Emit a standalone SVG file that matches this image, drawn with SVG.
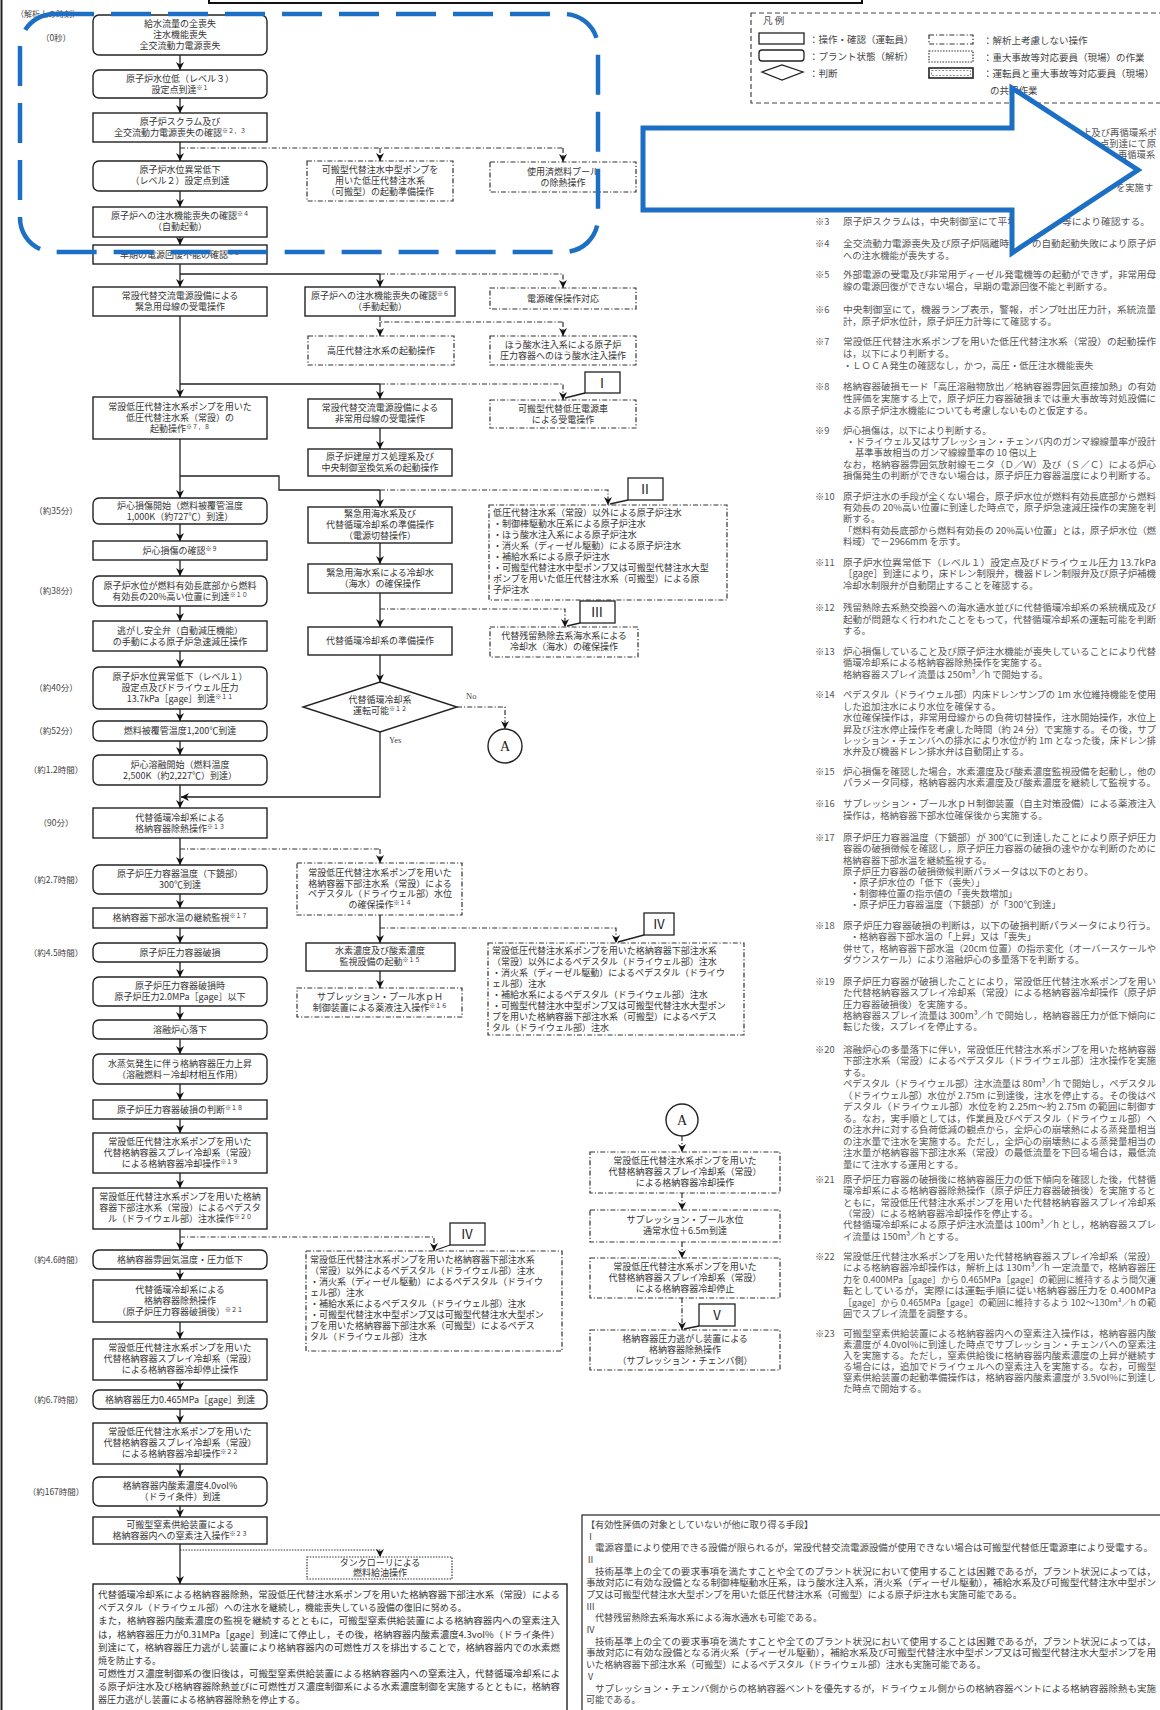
<svg xmlns="http://www.w3.org/2000/svg" width="1160" height="1710" viewBox="0 0 1160 1710">
<style>
.bx{fill:#fff;stroke:#222;stroke-width:1.4}
.dd{fill:#fff;stroke:#333;stroke-width:1.2;stroke-dasharray:5 2 1.2 2}
.dt{fill:#fff;stroke:#333;stroke-width:1.2;stroke-dasharray:1.5 1.3}
.lb{fill:#fff;stroke:#222;stroke-width:1.3}
.t{font-family:"Noto Sans CJK JP","Noto Sans CJK SC",sans-serif;font-size:9px;fill:#333;text-anchor:middle}
.tl{font-family:"Noto Sans CJK JP","Noto Sans CJK SC",sans-serif;font-size:9px;fill:#333}
.tm{font-family:"Noto Sans CJK JP",sans-serif;font-size:8.5px;fill:#444;text-anchor:middle}
.n{font-family:"Noto Sans CJK JP","Noto Sans CJK SC",sans-serif;font-size:9.3px;fill:#555}
.b{font-family:"Noto Sans CJK JP","Noto Sans CJK SC",sans-serif;font-size:9.1px;fill:#444}
.lg{font-family:"Noto Sans CJK JP",sans-serif;font-size:9.5px;fill:#444}
.rn{font-family:"Noto Sans CJK JP",sans-serif;font-size:13px;fill:#222;text-anchor:middle}
.s{font-size:6px}
.ln{fill:none;stroke:#222;stroke-width:1.3}
.ldd{fill:none;stroke:#333;stroke-width:1.2;stroke-dasharray:5 2 1.2 2}
.ldt{fill:none;stroke:#333;stroke-width:1.2;stroke-dasharray:1.5 1.3}
.blue{fill:none;stroke:#1c6fc4;stroke-width:4.5}
</style>
<defs>
<marker id="ah" viewBox="0 0 10 10" refX="10" refY="5" markerWidth="8" markerHeight="8" markerUnits="userSpaceOnUse" orient="auto">
<path d="M0,0 L10,5 L0,10 L3,5 z" fill="#111"/>
</marker>
</defs>
<rect width="1160" height="1710" fill="#fff"/>
<line x1="1.5" y1="0" x2="1.5" y2="1710" stroke="#222" stroke-width="2"/>
<rect x="209" y="-6" width="653" height="9" fill="none" stroke="#111" stroke-width="2"/>
<text class="tm" x="48" y="17" style="font-size:8px">（解析上の時刻）</text>

<!-- main column -->
<g id="n1"><rect class="bx" x="93" y="15" width="174" height="40" rx="6"/><text class="t" x="180" y="27">給水流量の全喪失</text><text class="t" x="180" y="38">注水機能喪失</text><text class="t" x="180" y="49">全交流動力電源喪失</text></g>
<g id="n2"><rect class="bx" x="93" y="70" width="174" height="28" rx="6"/><text class="t" x="180" y="82">原子炉水位低（レベル３）</text><text class="t" x="180" y="93">設定点到達<tspan class="s" dy="-3">※１</tspan></text></g>
<g id="n3"><rect class="bx" x="93" y="113" width="174" height="29"/><text class="t" x="180" y="125">原子炉スクラム及び</text><text class="t" x="180" y="136">全交流動力電源喪失の確認<tspan class="s" dy="-3">※２，３</tspan></text></g>
<g id="n4"><rect class="bx" x="93" y="161" width="174" height="30" rx="6"/><text class="t" x="180" y="173">原子炉水位異常低下</text><text class="t" x="180" y="184">（レベル２）設定点到達</text></g>
<g id="n5"><rect class="bx" x="93" y="207" width="174" height="30"/><text class="t" x="180" y="219">原子炉への注水機能喪失の確認<tspan class="s" dy="-3">※４</tspan></text><text class="t" x="180" y="230">（自動起動）</text></g>
<g id="n6"><rect class="bx" x="93" y="245" width="174" height="19"/><text class="t" x="180" y="258">早期の電源回復不能の確認<tspan class="s" dy="-3">※５</tspan></text></g>
<g id="n7"><rect class="bx" x="93" y="287" width="174" height="29"/><text class="t" x="180" y="299">常設代替交流電源設備による</text><text class="t" x="180" y="310">緊急用母線の受電操作</text></g>
<g id="n8"><rect class="bx" x="93" y="397" width="174" height="42"/><text class="t" x="180" y="410">常設低圧代替注水系ポンプを用いた</text><text class="t" x="180" y="421">低圧代替注水系（常設）の</text><text class="t" x="180" y="432">起動操作<tspan class="s" dy="-3">※７，８</tspan></text></g>
<g id="n9"><rect class="bx" x="93" y="498" width="174" height="26" rx="6"/><text class="t" x="180" y="509">炉心損傷開始（燃料被覆管温度</text><text class="t" x="180" y="520">1,000K（約727℃）到達）</text></g>
<g id="n10"><rect class="bx" x="93" y="541" width="174" height="19"/><text class="t" x="180" y="554">炉心損傷の確認<tspan class="s" dy="-3">※９</tspan></text></g>
<g id="n11"><rect class="bx" x="93" y="576" width="174" height="30" rx="6"/><text class="t" x="180" y="589">原子炉水位が燃料有効長底部から燃料</text><text class="t" x="180" y="600">有効長の20%高い位置に到達<tspan class="s" dy="-3">※１０</tspan></text></g>
<g id="n12"><rect class="bx" x="93" y="621" width="174" height="30"/><text class="t" x="180" y="634">逃がし安全弁（自動減圧機能）</text><text class="t" x="180" y="645">の手動による原子炉急速減圧操作</text></g>
<g id="n13"><rect class="bx" x="93" y="667" width="174" height="42" rx="6"/><text class="t" x="180" y="680">原子炉水位異常低下（レベル１）</text><text class="t" x="180" y="691">設定点及びドライウェル圧力</text><text class="t" x="180" y="702">13.7kPa［gage］到達<tspan class="s" dy="-3">※１１</tspan></text></g>
<g id="n14"><rect class="bx" x="93" y="721" width="174" height="20" rx="6"/><text class="t" x="180" y="734">燃料被覆管温度1,200℃到達</text></g>
<g id="n15"><rect class="bx" x="93" y="755" width="174" height="30" rx="6"/><text class="t" x="180" y="768">炉心溶融開始（燃料温度</text><text class="t" x="180" y="779">2,500K（約2,227℃）到達）</text></g>
<g id="n16"><rect class="bx" x="93" y="808" width="174" height="30"/><text class="t" x="180" y="821">代替循環冷却系による</text><text class="t" x="180" y="832">格納容器除熱操作<tspan class="s" dy="-3">※１３</tspan></text></g>
<g id="n17"><rect class="bx" x="93" y="865" width="174" height="29" rx="6"/><text class="t" x="180" y="877">原子炉圧力容器温度（下鏡部）</text><text class="t" x="180" y="888">300℃到達</text></g>
<g id="n18"><rect class="bx" x="93" y="908" width="174" height="20"/><text class="t" x="180" y="921">格納容器下部水温の継続監視<tspan class="s" dy="-3">※１７</tspan></text></g>
<g id="n19"><rect class="bx" x="93" y="943" width="174" height="19" rx="6"/><text class="t" x="180" y="956">原子炉圧力容器破損</text></g>
<g id="n20"><rect class="bx" x="93" y="977" width="174" height="29" rx="6"/><text class="t" x="180" y="989">原子炉圧力容器破損時</text><text class="t" x="180" y="1000">原子炉圧力2.0MPa［gage］以下</text></g>
<g id="n21"><rect class="bx" x="93" y="1020" width="174" height="19" rx="6"/><text class="t" x="180" y="1033">溶融炉心落下</text></g>
<g id="n22"><rect class="bx" x="93" y="1054" width="174" height="30" rx="6"/><text class="t" x="180" y="1067">水蒸気発生に伴う格納容器圧力上昇</text><text class="t" x="180" y="1078">（溶融燃料－冷却材相互作用）</text></g>
<g id="n23"><rect class="bx" x="93" y="1100" width="174" height="19"/><text class="t" x="180" y="1113">原子炉圧力容器破損の判断<tspan class="s" dy="-3">※１８</tspan></text></g>
<g id="n24"><rect class="bx" x="93" y="1133" width="174" height="40"/><text class="t" x="180" y="1145">常設低圧代替注水系ポンプを用いた</text><text class="t" x="180" y="1156">代替格納容器スプレイ冷却系（常設）</text><text class="t" x="180" y="1167">による格納容器冷却操作<tspan class="s" dy="-3">※１９</tspan></text></g>
<g id="n25"><rect class="bx" x="93" y="1188" width="174" height="41"/><text class="t" x="180" y="1200">常設低圧代替注水系ポンプを用いた格納</text><text class="t" x="180" y="1211">容器下部注水系（常設）によるペデスタ</text><text class="t" x="180" y="1222">ル（ドライウェル部）注水操作<tspan class="s" dy="-3">※２０</tspan></text></g>
<g id="n26"><rect class="bx" x="93" y="1250" width="174" height="19" rx="6"/><text class="t" x="180" y="1263">格納容器雰囲気温度・圧力低下</text></g>
<g id="n27"><rect class="bx" x="93" y="1280" width="174" height="42"/><text class="t" x="180" y="1293">代替循環冷却系による</text><text class="t" x="180" y="1304">格納容器除熱操作</text><text class="t" x="180" y="1315">（原子炉圧力容器破損後）<tspan class="s" dy="-3">※２１</tspan></text></g>
<g id="n28"><rect class="bx" x="93" y="1339" width="174" height="41"/><text class="t" x="180" y="1351">常設低圧代替注水系ポンプを用いた</text><text class="t" x="180" y="1362">代替格納容器スプレイ冷却系（常設）</text><text class="t" x="180" y="1373">による格納容器冷却停止操作</text></g>
<g id="n29"><rect class="bx" x="93" y="1390" width="174" height="19" rx="6"/><text class="t" x="180" y="1403">格納容器圧力0.465MPa［gage］到達</text></g>
<g id="n30"><rect class="bx" x="93" y="1423" width="174" height="41"/><text class="t" x="180" y="1435">常設低圧代替注水系ポンプを用いた</text><text class="t" x="180" y="1446">代替格納容器スプレイ冷却系（常設）</text><text class="t" x="180" y="1457">による格納容器冷却操作<tspan class="s" dy="-3">※２２</tspan></text></g>
<g id="n31"><rect class="bx" x="93" y="1477" width="174" height="29" rx="6"/><text class="t" x="180" y="1489">格納容器内酸素濃度4.0vol%</text><text class="t" x="180" y="1500">（ドライ条件）到達</text></g>
<g id="n32"><rect class="bx" x="93" y="1517" width="174" height="27"/><text class="t" x="180" y="1528">可搬型窒素供給装置による</text><text class="t" x="180" y="1539">格納容器内への窒素注入操作<tspan class="s" dy="-3">※２３</tspan></text></g>
<g id="n33"><rect class="bx" x="93" y="1584" width="474" height="140"/>
<text class="tl" x="98" y="1598" textLength="462" lengthAdjust="spacingAndGlyphs">代替循環冷却系による格納容器除熱，常設低圧代替注水系ポンプを用いた格納容器下部注水系（常設）による</text>
<text class="tl" x="98" y="1611">ペデスタル（ドライウェル部）への注水を継続し，機能喪失している設備の復旧に努める。</text>
<text class="tl" x="98" y="1624" textLength="462" lengthAdjust="spacingAndGlyphs">また，格納容器内酸素濃度の監視を継続するとともに，可搬型窒素供給装置による格納容器内への窒素注入</text>
<text class="tl" x="98" y="1638" textLength="462" lengthAdjust="spacingAndGlyphs">は，格納容器圧力が0.31MPa［gage］到達にて停止し，その後，格納容器内酸素濃度4.3vol%（ドライ条件）</text>
<text class="tl" x="98" y="1651" textLength="462" lengthAdjust="spacingAndGlyphs">到達にて，格納容器圧力逃がし装置により格納容器内の可燃性ガスを排出することで，格納容器内での水素燃</text>
<text class="tl" x="98" y="1664">焼を防止する。</text>
<text class="tl" x="98" y="1677" textLength="462" lengthAdjust="spacingAndGlyphs">可燃性ガス濃度制御系の復旧後は，可搬型窒素供給装置による格納容器内への窒素注入，代替循環冷却系によ</text>
<text class="tl" x="98" y="1690" textLength="462" lengthAdjust="spacingAndGlyphs">る原子炉注水及び格納容器除熱並びに可燃性ガス濃度制御系による水素濃度制御を実施するとともに，格納容</text>
<text class="tl" x="98" y="1703">器圧力逃がし装置による格納容器除熱を停止する。</text></g>

<!-- time labels -->
<g id="times">
<text class="tm" x="56" y="41">（0秒）</text>
<text class="tm" x="56" y="514">（約35分）</text>
<text class="tm" x="56" y="594">（約38分）</text>
<text class="tm" x="56" y="691">（約40分）</text>
<text class="tm" x="56" y="734">（約52分）</text>
<text class="tm" x="56" y="773">（約1.2時間）</text>
<text class="tm" x="56" y="826">（90分）</text>
<text class="tm" x="56" y="883">（約2.7時間）</text>
<text class="tm" x="56" y="956">（約4.5時間）</text>
<text class="tm" x="56" y="1263">（約4.6時間）</text>
<text class="tm" x="56" y="1403">（約6.7時間）</text>
<text class="tm" x="56" y="1495">（約167時間）</text>
</g>

<!-- side nodes -->
<g id="s1"><rect class="dd" x="307" y="161" width="146" height="40"/><text class="t" x="380" y="173">可搬型代替注水中型ポンプを</text><text class="t" x="380" y="184">用いた低圧代替注水系</text><text class="t" x="380" y="195">（可搬型）の起動準備操作</text></g>
<g id="s2"><rect class="dd" x="490" y="162" width="146" height="30"/><text class="t" x="563" y="175">使用済燃料プール</text><text class="t" x="563" y="186">の除熱操作</text></g>
<g id="s3"><rect class="bx" x="305" y="287" width="150" height="29"/><text class="t" x="380" y="299">原子炉への注水機能喪失の確認<tspan class="s" dy="-3">※６</tspan></text><text class="t" x="380" y="310">（手動起動）</text></g>
<g id="s4"><rect class="dd" x="490" y="288" width="146" height="21"/><text class="t" x="563" y="302">電源確保操作対応</text></g>
<g id="s5"><rect class="dd" x="308" y="336" width="146" height="29"/><text class="t" x="381" y="354">高圧代替注水系の起動操作</text></g>
<g id="s6"><rect class="dd" x="490" y="336" width="146" height="29"/><text class="t" x="563" y="348">ほう酸水注入系による原子炉</text><text class="t" x="563" y="359">圧力容器へのほう酸水注入操作</text></g>
<g id="s7"><rect class="bx" x="308" y="399" width="144" height="29"/><text class="t" x="380" y="411">常設代替交流電源設備による</text><text class="t" x="380" y="422">非常用母線の受電操作</text></g>
<g id="s8"><rect class="dd" x="490" y="400" width="146" height="28"/><text class="t" x="563" y="412">可搬型代替低圧電源車</text><text class="t" x="563" y="423">による受電操作</text></g>
<g id="s9"><rect class="bx" x="308" y="449" width="144" height="27"/><text class="t" x="380" y="460">原子炉建屋ガス処理系及び</text><text class="t" x="380" y="471">中央制御室換気系の起動操作</text></g>
<g id="s10"><rect class="bx" x="308" y="507" width="144" height="36"/><text class="t" x="380" y="517">緊急用海水系及び</text><text class="t" x="380" y="528">代替循環冷却系の準備操作</text><text class="t" x="380" y="539">（電源切替操作）</text></g>
<g id="s11"><rect class="dd" x="489" y="505" width="238" height="95"/>
<text class="tl" x="493" y="516">低圧代替注水系（常設）以外による原子炉注水</text>
<text class="tl" x="493" y="527">・制御棒駆動水圧系による原子炉注水</text>
<text class="tl" x="493" y="538">・ほう酸水注入系による原子炉注水</text>
<text class="tl" x="493" y="549">・消火系（ディーゼル駆動）による原子炉注水</text>
<text class="tl" x="493" y="560">・補給水系による原子炉注水</text>
<text class="tl" x="493" y="571">・可搬型代替注水中型ポンプ又は可搬型代替注水大型</text>
<text class="tl" x="493" y="582">ポンプを用いた低圧代替注水系（可搬型）による原</text>
<text class="tl" x="493" y="593">子炉注水</text></g>
<g id="s12"><rect class="bx" x="308" y="564" width="144" height="29"/><text class="t" x="380" y="576">緊急用海水系による冷却水</text><text class="t" x="380" y="587">（海水）の確保操作</text></g>
<g id="s13"><rect class="bx" x="308" y="627" width="144" height="28"/><text class="t" x="380" y="644">代替循環冷却系の準備操作</text></g>
<g id="s14"><rect class="dd" x="490" y="627" width="148" height="30"/><text class="t" x="564" y="639">代替残留熱除去系海水系による</text><text class="t" x="564" y="650">冷却水（海水）の確保操作</text></g>
<g id="d1"><polygon class="bx" points="380,682 457,707 380,732 303,707"/><text class="t" x="380" y="703">代替循環冷却系</text><text class="t" x="380" y="714">運転可能<tspan class="s" dy="-3">※１２</tspan></text></g>
<g id="cA1"><circle class="bx" cx="505" cy="746" r="17"/><text x="505" y="751" style="font-family:'Liberation Serif',serif;font-size:14px;fill:#222;text-anchor:middle">A</text></g>
<g id="s15"><rect class="dd" x="297" y="863" width="165" height="52"/><text class="t" x="380" y="876">常設低圧代替注水系ポンプを用いた</text><text class="t" x="380" y="887">格納容器下部注水系（常設）による</text><text class="t" x="380" y="897">ペデスタル（ドライウェル部）水位</text><text class="t" x="380" y="908">の確保操作<tspan class="s" dy="-3">※１４</tspan></text></g>
<g id="s16"><rect class="bx" x="306" y="943" width="149" height="28"/><text class="t" x="380" y="954">水素濃度及び酸素濃度</text><text class="t" x="380" y="965">監視設備の起動<tspan class="s" dy="-3">※１５</tspan></text></g>
<g id="s17"><rect class="dd" x="297" y="988" width="165" height="29"/><text class="t" x="380" y="1000">サプレッション・プール水ｐＨ</text><text class="t" x="380" y="1011">制御装置による薬液注入操作<tspan class="s" dy="-3">※１６</tspan></text></g>
<g id="s18"><rect class="dd" x="488" y="943" width="256" height="92"/>
<text class="tl" x="492" y="954">常設低圧代替注水系ポンプを用いた格納容器下部注水系</text>
<text class="tl" x="492" y="965">（常設）以外によるペデスタル（ドライウェル部）注水</text>
<text class="tl" x="492" y="976">・消火系（ディーゼル駆動）によるペデスタル（ドライウ</text>
<text class="tl" x="492" y="987">ェル部）注水</text>
<text class="tl" x="492" y="998">・補給水系によるペデスタル（ドライウェル部）注水</text>
<text class="tl" x="492" y="1009">・可搬型代替注水中型ポンプ又は可搬型代替注水大型ポン</text>
<text class="tl" x="492" y="1020">プを用いた格納容器下部注水系（可搬型）によるペデス</text>
<text class="tl" x="492" y="1031">タル（ドライウェル部）注水</text></g>
<g id="s19"><rect class="dd" x="306" y="1251" width="256" height="100"/>
<text class="tl" x="310" y="1263">常設低圧代替注水系ポンプを用いた格納容器下部注水系</text>
<text class="tl" x="310" y="1274">（常設）以外によるペデスタル（ドライウェル部）注水</text>
<text class="tl" x="310" y="1285">・消火系（ディーゼル駆動）によるペデスタル（ドライウ</text>
<text class="tl" x="310" y="1296">ェル部）注水</text>
<text class="tl" x="310" y="1307">・補給水系によるペデスタル（ドライウェル部）注水</text>
<text class="tl" x="310" y="1318">・可搬型代替注水中型ポンプ又は可搬型代替注水大型ポン</text>
<text class="tl" x="310" y="1329">プを用いた格納容器下部注水系（可搬型）によるペデス</text>
<text class="tl" x="310" y="1340">タル（ドライウェル部）注水</text></g>
<g id="cA2"><circle class="bx" cx="682" cy="1120" r="16"/><text x="682" y="1125" style="font-family:'Liberation Serif',serif;font-size:14px;fill:#222;text-anchor:middle">A</text></g>
<g id="a1"><rect class="dd" x="590" y="1152" width="190" height="41"/><text class="t" x="685" y="1164">常設低圧代替注水系ポンプを用いた</text><text class="t" x="685" y="1175">代替格納容器スプレイ冷却系（常設）</text><text class="t" x="685" y="1186">による格納容器冷却操作</text></g>
<g id="a2"><rect class="dd" x="590" y="1210" width="190" height="32"/><text class="t" x="685" y="1223">サプレッション・プール水位</text><text class="t" x="685" y="1234">通常水位＋6.5m到達</text></g>
<g id="a3"><rect class="dd" x="590" y="1258" width="190" height="40"/><text class="t" x="685" y="1270">常設低圧代替注水系ポンプを用いた</text><text class="t" x="685" y="1281">代替格納容器スプレイ冷却系（常設）</text><text class="t" x="685" y="1292">による格納容器冷却停止</text></g>
<g id="a4"><rect class="dd" x="590" y="1330" width="190" height="40"/><text class="t" x="685" y="1342">格納容器圧力逃がし装置による</text><text class="t" x="685" y="1353">格納容器除熱操作</text><text class="t" x="685" y="1364">（サプレッション・チェンバ側）</text></g>
<g id="tank"><rect class="dt" x="307" y="1557" width="145" height="22"/><text class="t" x="380" y="1566">タンクローリによる</text><text class="t" x="380" y="1576">燃料給油操作</text></g>

<!-- roman labels -->
<g id="r1"><rect class="lb" x="585" y="372" width="35" height="21"/><text class="rn" x="602" y="388">Ⅰ</text><line class="ln" x1="585" y1="393" x2="565" y2="398"/></g>
<g id="r2"><rect class="lb" x="628" y="478" width="35" height="22"/><text class="rn" x="645" y="494">Ⅱ</text><line class="ln" x1="628" y1="500" x2="610" y2="504"/></g>
<g id="r3"><rect class="lb" x="580" y="601" width="35" height="22"/><text class="rn" x="597" y="617">Ⅲ</text><line class="ln" x1="580" y1="623" x2="567" y2="626"/></g>
<g id="r4a"><rect class="lb" x="644" y="913" width="30" height="22"/><text class="rn" x="659" y="929">Ⅳ</text><line class="ln" x1="644" y1="935" x2="618" y2="942"/></g>
<g id="r4b"><rect class="lb" x="450" y="1223" width="35" height="22"/><text class="rn" x="467" y="1239">Ⅳ</text><line class="ln" x1="450" y1="1245" x2="436" y2="1250"/></g>
<g id="r5"><rect class="lb" x="699" y="1304" width="36" height="22"/><text class="rn" x="717" y="1320">Ⅴ</text><line class="ln" x1="699" y1="1326" x2="684" y2="1329"/></g>

<!-- connectors -->
<g id="connectors">
<path class="ln" marker-end="url(#ah)" d="M180,55V70"/>
<path class="ln" marker-end="url(#ah)" d="M180,98V113"/>
<path class="ln" marker-end="url(#ah)" d="M180,142V161"/>
<path class="ln" marker-end="url(#ah)" d="M180,191V207"/>
<path class="ln" marker-end="url(#ah)" d="M180,237V245"/>
<path class="ln" marker-end="url(#ah)" d="M180,264V287"/>
<path class="ln" marker-end="url(#ah)" d="M180,316V397"/>
<path class="ln" marker-end="url(#ah)" d="M180,439V498"/>
<path class="ln" marker-end="url(#ah)" d="M180,524V541"/>
<path class="ln" marker-end="url(#ah)" d="M180,560V576"/>
<path class="ln" marker-end="url(#ah)" d="M180,606V621"/>
<path class="ln" marker-end="url(#ah)" d="M180,651V667"/>
<path class="ln" marker-end="url(#ah)" d="M180,709V721"/>
<path class="ln" marker-end="url(#ah)" d="M180,741V755"/>
<path class="ln" marker-end="url(#ah)" d="M180,785V808"/>
<path class="ln" marker-end="url(#ah)" d="M180,838V865"/>
<path class="ln" marker-end="url(#ah)" d="M180,894V908"/>
<path class="ln" marker-end="url(#ah)" d="M180,928V943"/>
<path class="ln" marker-end="url(#ah)" d="M180,962V977"/>
<path class="ln" marker-end="url(#ah)" d="M180,1006V1020"/>
<path class="ln" marker-end="url(#ah)" d="M180,1039V1054"/>
<path class="ln" marker-end="url(#ah)" d="M180,1084V1100"/>
<path class="ln" marker-end="url(#ah)" d="M180,1119V1133"/>
<path class="ln" marker-end="url(#ah)" d="M180,1173V1188"/>
<path class="ln" marker-end="url(#ah)" d="M180,1229V1250"/>
<path class="ln" marker-end="url(#ah)" d="M180,1269V1280"/>
<path class="ln" marker-end="url(#ah)" d="M180,1322V1339"/>
<path class="ln" marker-end="url(#ah)" d="M180,1380V1390"/>
<path class="ln" marker-end="url(#ah)" d="M180,1409V1423"/>
<path class="ln" marker-end="url(#ah)" d="M180,1464V1477"/>
<path class="ln" marker-end="url(#ah)" d="M180,1506V1517"/>
<path class="ln" marker-end="url(#ah)" d="M180,1544V1584"/>
<path class="ldd" d="M180,148H563"/>
<path class="ldd" marker-end="url(#ah)" d="M380,148V161"/>
<path class="ldd" marker-end="url(#ah)" d="M563,148V162"/>
<path class="ln" d="M180,274H380"/>
<path class="ln" marker-end="url(#ah)" d="M380,274V287"/>
<path class="ldd" marker-end="url(#ah)" d="M380,274H563V288"/>
<path class="ldd" d="M380,316V322H563"/>
<path class="ldd" marker-end="url(#ah)" d="M380,322V336"/>
<path class="ldd" marker-end="url(#ah)" d="M563,322V336"/>
<path class="ln" d="M180,384H380"/>
<path class="ln" marker-end="url(#ah)" d="M380,384V399"/>
<path class="ldd" marker-end="url(#ah)" d="M380,384H563V400"/>
<path class="ln" marker-end="url(#ah)" d="M380,428V449"/>
<path class="ln" d="M180,476H279V490H380"/>
<path class="ln" marker-end="url(#ah)" d="M380,490V507"/>
<path class="ldd" marker-end="url(#ah)" d="M380,490H608V505"/>
<path class="ln" marker-end="url(#ah)" d="M380,543V564"/>
<path class="ln" marker-end="url(#ah)" d="M380,593V627"/>
<path class="ldd" marker-end="url(#ah)" d="M380,609H565V627"/>
<path class="ln" marker-end="url(#ah)" d="M380,655V682"/>
<path class="ldd" marker-end="url(#ah)" d="M457,707H505V729"/>
<path class="ln" marker-end="url(#ah)" d="M380,732V797H181"/>
<path class="ldd" d="M180,849H380"/>
<path class="ldd" marker-end="url(#ah)" d="M380,849V863"/>
<path class="ln" marker-end="url(#ah)" d="M380,915V943"/>
<path class="ldd" marker-end="url(#ah)" d="M380,928H616V943"/>
<path class="ln" marker-end="url(#ah)" d="M380,971V988"/>
<path class="ldd" marker-end="url(#ah)" d="M180,1237H434V1251"/>
<path class="ldd" marker-end="url(#ah)" d="M682,1136V1152"/>
<path class="ldd" marker-end="url(#ah)" d="M682,1193V1210"/>
<path class="ldd" marker-end="url(#ah)" d="M682,1242V1258"/>
<path class="ldd" marker-end="url(#ah)" d="M682,1298V1330"/>
<path class="ldt" marker-end="url(#ah)" d="M180,1550H380V1557"/>
<text x="466" y="699" style="font-family:'Liberation Serif',serif;font-size:8.5px;fill:#444">No</text>
<text x="389" y="743" style="font-family:'Liberation Serif',serif;font-size:8.5px;fill:#444">Yes</text>
</g>

<!-- legend -->
<g id="legend">
<rect x="751" y="13" width="420" height="90" fill="none" stroke="#444" stroke-width="1.2" stroke-dasharray="5 3"/>
<text class="lg" x="763" y="24">凡 例</text>
<rect x="759" y="33" width="45" height="11" fill="none" stroke="#222" stroke-width="1.3"/>
<text class="lg" x="809" y="43">：操作・確認（運転員）</text>
<rect x="759" y="50" width="45" height="11" rx="3" fill="none" stroke="#222" stroke-width="1.3"/>
<text class="lg" x="809" y="60">：プラント状態（解析）</text>
<polygon points="762,72 782,65 803,72 782,80" fill="none" stroke="#222" stroke-width="1.3"/>
<text class="lg" x="809" y="77">：判断</text>
<rect x="929" y="35" width="44" height="9" class="dd" style="fill:none"/>
<text class="lg" x="983" y="44">：解析上考慮しない操作</text>
<rect x="929" y="51" width="44" height="11" class="dt" style="fill:none"/>
<text class="lg" x="983" y="61">：重大事故等対応要員（現場）の作業</text>
<rect x="929" y="68" width="44" height="10" fill="none" stroke="#222" stroke-width="1.6"/>
<rect x="931.5" y="70.5" width="39" height="5" fill="none" stroke="#777" stroke-width="0.8" stroke-dasharray="2 1.5"/>
<text class="lg" x="983" y="77">：運転員と重大事故等対応要員（現場）</text>
<text class="lg" x="990" y="94">の共同作業</text>
</g>

<!-- notes -->
<g id="notes">
<text class="n" x="1082" y="136" textLength="75" lengthAdjust="spacingAndGlyphs">上及び再循環系ポ</text>
<text class="n" x="1100" y="147" textLength="56" lengthAdjust="spacingAndGlyphs">点到達にて原</text>
<text class="n" x="1118" y="158">再循環系</text>
<text class="n" x="1116" y="191">を実施す</text>
<text class="n" x="815" y="225">※3</text><text class="n" x="843" y="225" textLength="174" lengthAdjust="spacingAndGlyphs">原子炉スクラムは，中央制御室にて平均</text><text class="n" x="1062" y="225" textLength="88" lengthAdjust="spacingAndGlyphs">等により確認する。</text>
<text class="n" x="815" y="247">※4</text><text class="n" x="843" y="247" textLength="166" lengthAdjust="spacingAndGlyphs">全交流動力電源喪失及び原子炉隔離時</text><text class="n" x="1032" y="247" textLength="124" lengthAdjust="spacingAndGlyphs">の自動起動失敗により原子炉</text>
<text class="n" x="843" y="259">への注水機能が喪失する。</text>
<text class="n" x="815" y="278">※5</text><text class="n" x="843" y="278" textLength="313" lengthAdjust="spacingAndGlyphs">外部電源の受電及び非常用ディーゼル発電機等の起動ができず，非常用母</text>
<text class="n" x="843" y="290">線の電源回復ができない場合，早期の電源回復不能と判断する。</text>
<text class="n" x="815" y="313">※6</text><text class="n" x="843" y="313" textLength="313" lengthAdjust="spacingAndGlyphs">中央制御室にて，機器ランプ表示，警報，ポンプ吐出圧力計，系統流量</text>
<text class="n" x="843" y="325">計，原子炉水位計，原子炉圧力計等にて確認する。</text>
<text class="n" x="815" y="345">※7</text><text class="n" x="843" y="345" textLength="313" lengthAdjust="spacingAndGlyphs">常設低圧代替注水系ポンプを用いた低圧代替注水系（常設）の起動操作</text>
<text class="n" x="843" y="357">は，以下により判断する。</text>
<text class="n" x="843" y="369">・ＬＯＣＡ発生の確認なし，かつ，高圧・低圧注水機能喪失</text>
<text class="n" x="815" y="390">※8</text><text class="n" x="843" y="390" textLength="313" lengthAdjust="spacingAndGlyphs">格納容器破損モード「高圧溶融物放出／格納容器雰囲気直接加熱」の有効</text>
<text class="n" x="843" y="402" textLength="313" lengthAdjust="spacingAndGlyphs">性評価を実施する上で，原子炉圧力容器破損までは重大事故等対処設備に</text>
<text class="n" x="843" y="414">よる原子炉注水機能についても考慮しないものと仮定する。</text>
<text class="n" x="815" y="434">※9</text><text class="n" x="843" y="434">炉心損傷は，以下により判断する。</text>
<text class="n" x="846" y="445" textLength="310" lengthAdjust="spacingAndGlyphs">・ドライウェル又はサプレッション・チェンバ内のガンマ線線量率が設計</text>
<text class="n" x="855" y="456">基準事故相当のガンマ線線量率の 10 倍以上</text>
<text class="n" x="843" y="468" textLength="313" lengthAdjust="spacingAndGlyphs">なお，格納容器雰囲気放射線モニタ（Ｄ／Ｗ）及び（Ｓ／Ｃ）による炉心</text>
<text class="n" x="843" y="479" textLength="313" lengthAdjust="spacingAndGlyphs">損傷発生の判断ができない場合は，原子炉圧力容器温度により判断する。</text>
<text class="n" x="815" y="500">※10</text><text class="n" x="843" y="500" textLength="313" lengthAdjust="spacingAndGlyphs">原子炉注水の手段が全くない場合，原子炉水位が燃料有効長底部から燃料</text>
<text class="n" x="843" y="511" textLength="313" lengthAdjust="spacingAndGlyphs">有効長の 20%高い位置に到達した時点で，原子炉急速減圧操作の実施を判</text>
<text class="n" x="843" y="522">断する。</text>
<text class="n" x="843" y="534" textLength="313" lengthAdjust="spacingAndGlyphs">「燃料有効長底部から燃料有効長の 20%高い位置」とは，原子炉水位（燃</text>
<text class="n" x="843" y="545">料域）で－2966mm を示す。</text>
<text class="n" x="815" y="566">※11</text><text class="n" x="843" y="566" textLength="313" lengthAdjust="spacingAndGlyphs">原子炉水位異常低下（レベル１）設定点及びドライウェル圧力 13.7kPa</text>
<text class="n" x="843" y="577" textLength="313" lengthAdjust="spacingAndGlyphs">［gage］到達により，床ドレン制限弁，機器ドレン制限弁及び原子炉補機</text>
<text class="n" x="843" y="589">冷却水制限弁が自動閉止することを確認する。</text>
<text class="n" x="815" y="611">※12</text><text class="n" x="843" y="611" textLength="313" lengthAdjust="spacingAndGlyphs">残留熱除去系熱交換器への海水通水並びに代替循環冷却系の系統構成及び</text>
<text class="n" x="843" y="623" textLength="313" lengthAdjust="spacingAndGlyphs">起動が問題なく行われたことをもって，代替循環冷却系の運転可能を判断</text>
<text class="n" x="843" y="634">する。</text>
<text class="n" x="815" y="655">※13</text><text class="n" x="843" y="655" textLength="313" lengthAdjust="spacingAndGlyphs">炉心損傷していること及び原子炉注水機能が喪失していることにより代替</text>
<text class="n" x="843" y="666">循環冷却系による格納容器除熱操作を実施する。</text>
<text class="n" x="843" y="678">格納容器スプレイ流量は 250m³／h で開始する。</text>
<text class="n" x="815" y="698">※14</text><text class="n" x="843" y="698" textLength="313" lengthAdjust="spacingAndGlyphs">ペデスタル（ドライウェル部）内床ドレンサンプの 1m 水位維持機能を使用</text>
<text class="n" x="843" y="710">した追加注水により水位を確保する。</text>
<text class="n" x="843" y="721" textLength="313" lengthAdjust="spacingAndGlyphs">水位確保操作は，非常用母線からの負荷切替操作，注水開始操作，水位上</text>
<text class="n" x="843" y="733" textLength="313" lengthAdjust="spacingAndGlyphs">昇及び注水停止操作を考慮した時間（約 24 分）で実施する。その後，サプ</text>
<text class="n" x="843" y="744" textLength="313" lengthAdjust="spacingAndGlyphs">レッション・チェンバへの排水により水位が約 1m となった後，床ドレン排</text>
<text class="n" x="843" y="755">水弁及び機器ドレン排水弁は自動閉止する。</text>
<text class="n" x="815" y="775">※15</text><text class="n" x="843" y="775" textLength="313" lengthAdjust="spacingAndGlyphs">炉心損傷を確認した場合，水素濃度及び酸素濃度監視設備を起動し，他の</text>
<text class="n" x="843" y="786" textLength="313" lengthAdjust="spacingAndGlyphs">パラメータ同様，格納容器内水素濃度及び酸素濃度を継続して監視する。</text>
<text class="n" x="815" y="807">※16</text><text class="n" x="843" y="807" textLength="313" lengthAdjust="spacingAndGlyphs">サプレッション・プール水ｐＨ制御装置（自主対策設備）による薬液注入</text>
<text class="n" x="843" y="819">操作は，格納容器下部水位確保後から実施する。</text>
<text class="n" x="815" y="841">※17</text><text class="n" x="843" y="841" textLength="313" lengthAdjust="spacingAndGlyphs">原子炉圧力容器温度（下鏡部）が 300℃に到達したことにより原子炉圧力</text>
<text class="n" x="843" y="852" textLength="313" lengthAdjust="spacingAndGlyphs">容器の破損徴候を確認し，原子炉圧力容器の破損の速やかな判断のために</text>
<text class="n" x="843" y="864">格納容器下部水温を継続監視する。</text>
<text class="n" x="843" y="875">原子炉圧力容器の破損徴候判断パラメータは以下のとおり。</text>
<text class="n" x="850" y="886">・原子炉水位の「低下（喪失）」</text>
<text class="n" x="850" y="897">・制御棒位置の指示値の「喪失数増加」</text>
<text class="n" x="850" y="908">・原子炉圧力容器温度（下鏡部）が「300℃到達」</text>
<text class="n" x="815" y="929">※18</text><text class="n" x="843" y="929" textLength="313" lengthAdjust="spacingAndGlyphs">原子炉圧力容器破損の判断は，以下の破損判断パラメータにより行う。</text>
<text class="n" x="850" y="940">・格納容器下部水温の「上昇」又は「喪失」</text>
<text class="n" x="843" y="952" textLength="313" lengthAdjust="spacingAndGlyphs">併せて，格納容器下部水温（20cm 位置）の指示変化（オーバースケールや</text>
<text class="n" x="843" y="963">ダウンスケール）により溶融炉心の多量落下を判断する。</text>
<text class="n" x="815" y="985">※19</text><text class="n" x="843" y="985" textLength="313" lengthAdjust="spacingAndGlyphs">原子炉圧力容器が破損したことにより，常設低圧代替注水系ポンプを用い</text>
<text class="n" x="843" y="996" textLength="313" lengthAdjust="spacingAndGlyphs">た代替格納容器スプレイ冷却系（常設）による格納容器冷却操作（原子炉</text>
<text class="n" x="843" y="1008">圧力容器破損後）を実施する。</text>
<text class="n" x="843" y="1019" textLength="313" lengthAdjust="spacingAndGlyphs">格納容器スプレイ流量は 300m³／h で開始し，格納容器圧力が低下傾向に</text>
<text class="n" x="843" y="1030">転じた後，スプレイを停止する。</text>
<text class="n" x="815" y="1053">※20</text><text class="n" x="843" y="1053" textLength="313" lengthAdjust="spacingAndGlyphs">溶融炉心の多量落下に伴い，常設低圧代替注水系ポンプを用いた格納容器</text>
<text class="n" x="843" y="1064" textLength="313" lengthAdjust="spacingAndGlyphs">下部注水系（常設）によるペデスタル（ドライウェル部）注水操作を実施</text>
<text class="n" x="843" y="1076">する。</text>
<text class="n" x="843" y="1087" textLength="313" lengthAdjust="spacingAndGlyphs">ペデスタル（ドライウェル部）注水流量は 80m³／h で開始し，ペデスタル</text>
<text class="n" x="843" y="1099" textLength="313" lengthAdjust="spacingAndGlyphs">（ドライウェル部）水位が 2.75m に到達後，注水を停止する。その後はペ</text>
<text class="n" x="843" y="1110" textLength="313" lengthAdjust="spacingAndGlyphs">デスタル（ドライウェル部）水位を約 2.25m～約 2.75m の範囲に制御す</text>
<text class="n" x="843" y="1122" textLength="313" lengthAdjust="spacingAndGlyphs">る。なお，実手順としては，作業員及びペデスタル（ドライウェル部）へ</text>
<text class="n" x="843" y="1133" textLength="313" lengthAdjust="spacingAndGlyphs">の注水弁に対する負荷低減の観点から，全炉心の崩壊熱による蒸発量相当</text>
<text class="n" x="843" y="1145" textLength="313" lengthAdjust="spacingAndGlyphs">の注水量で注水を実施する。ただし，全炉心の崩壊熱による蒸発量相当の</text>
<text class="n" x="843" y="1156" textLength="313" lengthAdjust="spacingAndGlyphs">注水量が格納容器下部注水系（常設）の最低流量を下回る場合は，最低流</text>
<text class="n" x="843" y="1168">量にて注水する運用とする。</text>
<text class="n" x="815" y="1183">※21</text><text class="n" x="843" y="1183" textLength="313" lengthAdjust="spacingAndGlyphs">原子炉圧力容器の破損後に格納容器圧力の低下傾向を確認した後，代替循</text>
<text class="n" x="843" y="1194" textLength="313" lengthAdjust="spacingAndGlyphs">環冷却系による格納容器除熱操作（原子炉圧力容器破損後）を実施すると</text>
<text class="n" x="843" y="1206" textLength="313" lengthAdjust="spacingAndGlyphs">ともに，常設低圧代替注水系ポンプを用いた代替格納容器スプレイ冷却系</text>
<text class="n" x="843" y="1217">（常設）による格納容器冷却操作を停止する。</text>
<text class="n" x="843" y="1228" textLength="313" lengthAdjust="spacingAndGlyphs">代替循環冷却系による原子炉注水流量は 100m³／h とし，格納容器スプレ</text>
<text class="n" x="843" y="1240">イ流量は 150m³／h とする。</text>
<text class="n" x="815" y="1260">※22</text><text class="n" x="843" y="1260" textLength="313" lengthAdjust="spacingAndGlyphs">常設低圧代替注水系ポンプを用いた代替格納容器スプレイ冷却系（常設）</text>
<text class="n" x="843" y="1271" textLength="313" lengthAdjust="spacingAndGlyphs">による格納容器冷却操作は，解析上は 130m³／h 一定流量で，格納容器圧</text>
<text class="n" x="843" y="1283" textLength="313" lengthAdjust="spacingAndGlyphs" style="font-size:8.6px">力を 0.400MPa［gage］から 0.465MPa［gage］の範囲に維持するよう間欠運</text>
<text class="n" x="843" y="1294" textLength="313" lengthAdjust="spacingAndGlyphs">転としているが，実際には運転手順に従い格納容器圧力を 0.400MPa</text>
<text class="n" x="843" y="1306" textLength="313" lengthAdjust="spacingAndGlyphs" style="font-size:8.6px">［gage］から 0.465MPa［gage］の範囲に維持するよう 102～130m³／h の範</text>
<text class="n" x="843" y="1317">囲でスプレイ流量を調整する。</text>
<text class="n" x="815" y="1337">※23</text><text class="n" x="843" y="1337" textLength="313" lengthAdjust="spacingAndGlyphs">可搬型窒素供給装置による格納容器内への窒素注入操作は，格納容器内酸</text>
<text class="n" x="843" y="1348" textLength="313" lengthAdjust="spacingAndGlyphs">素濃度が 4.0vol%に到達した時点でサプレッション・チェンバへの窒素注</text>
<text class="n" x="843" y="1359" textLength="313" lengthAdjust="spacingAndGlyphs">入を実施する。ただし，窒素供給後に格納容器内酸素濃度の上昇が継続す</text>
<text class="n" x="843" y="1370" textLength="313" lengthAdjust="spacingAndGlyphs">る場合には，追加でドライウェルへの窒素注入を実施する。なお，可搬型</text>
<text class="n" x="843" y="1381" textLength="313" lengthAdjust="spacingAndGlyphs">窒素供給装置の起動準備操作は，格納容器内酸素濃度が 3.5vol%に到達し</text>
<text class="n" x="843" y="1392">た時点で開始する。</text>
</g>

<!-- other means box -->
<g id="means">
<rect x="582" y="1515" width="600" height="210" fill="#fff" stroke="#333" stroke-width="1.3"/>
<text class="b" x="586" y="1528">【有効性評価の対象としていないが他に取り得る手段】</text>
<text class="b" x="586" y="1540">Ⅰ</text>
<text class="b" x="595" y="1551" textLength="558" lengthAdjust="spacingAndGlyphs">電源容量により使用できる設備が限られるが，常設代替交流電源設備が使用できない場合は可搬型代替低圧電源車により受電する。</text>
<text class="b" x="586" y="1563">Ⅱ</text>
<text class="b" x="595" y="1575" textLength="561" lengthAdjust="spacingAndGlyphs">技術基準上の全ての要求事項を満たすことや全てのプラント状況において使用することは困難であるが，プラント状況によっては，</text>
<text class="b" x="586" y="1586" textLength="570" lengthAdjust="spacingAndGlyphs">事故対応に有効な設備となる制御棒駆動水圧系，ほう酸水注入系，消火系（ディーゼル駆動），補給水系及び可搬型代替注水中型ポン</text>
<text class="b" x="586" y="1598">プ又は可搬型代替注水大型ポンプを用いた低圧代替注水系（可搬型）による原子炉注水も実施可能である。</text>
<text class="b" x="586" y="1610">Ⅲ</text>
<text class="b" x="595" y="1621">代替残留熱除去系海水系による海水通水も可能である。</text>
<text class="b" x="586" y="1633">Ⅳ</text>
<text class="b" x="595" y="1645" textLength="561" lengthAdjust="spacingAndGlyphs">技術基準上の全ての要求事項を満たすことや全てのプラント状況において使用することは困難であるが，プラント状況によっては，</text>
<text class="b" x="586" y="1656" textLength="570" lengthAdjust="spacingAndGlyphs">事故対応に有効な設備となる消火系（ディーゼル駆動），補給水系及び可搬型代替注水中型ポンプ又は可搬型代替注水大型ポンプを用</text>
<text class="b" x="586" y="1668">いた格納容器下部注水系（可搬型）によるペデスタル（ドライウェル部）注水も実施可能である。</text>
<text class="b" x="586" y="1680">Ⅴ</text>
<text class="b" x="595" y="1692" textLength="561" lengthAdjust="spacingAndGlyphs">サプレッション・チェンバ側からの格納容器ベントを優先するが，ドライウェル側からの格納容器ベントによる格納容器除熱も実施</text>
<text class="b" x="586" y="1703">可能である。</text>
</g>

<!-- blue annotation -->
<g id="annotation">
<rect class="blue" x="20" y="14" width="578" height="238" rx="34" stroke-dasharray="40 17"/>
<polygon points="643,128 1012,128 1012,88 1138,170 1012,253 1012,210 643,210" fill="#fff" stroke="#1c6fc4" stroke-width="5"/>
</g>
</svg>
